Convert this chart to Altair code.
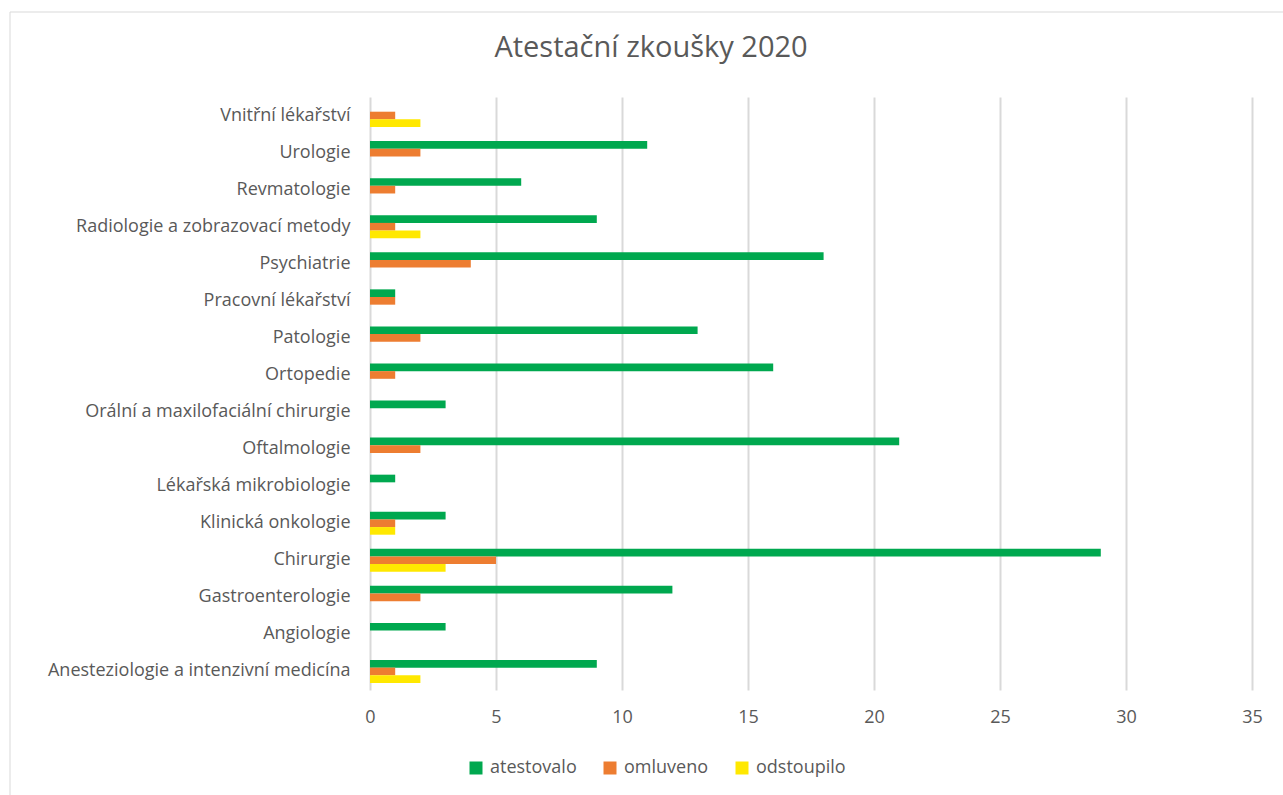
import altair as alt
import pandas as pd

categories = [
    "Vnitřní lékařství",
    "Urologie",
    "Revmatologie",
    "Radiologie a zobrazovací metody",
    "Psychiatrie",
    "Pracovní lékařství",
    "Patologie",
    "Ortopedie",
    "Orální a maxilofaciální chirurgie",
    "Oftalmologie",
    "Lékařská mikrobiologie",
    "Klinická onkologie",
    "Chirurgie",
    "Gastroenterologie",
    "Angiologie",
    "Anesteziologie a intenzivní medicína",
]
atestovalo = [0, 11, 6, 9, 18, 1, 13, 16, 3, 21, 1, 3, 29, 12, 3, 9]
omluveno = [1, 2, 1, 1, 4, 1, 2, 1, 0, 2, 0, 1, 5, 2, 0, 1]
odstoupilo = [2, 0, 0, 2, 0, 0, 0, 0, 0, 0, 0, 1, 3, 0, 0, 2]

series = ["atestovalo", "omluveno", "odstoupilo"]
colors = ["#00A84F", "#ED7D31", "#FFE800"]
x_ticks = [0, 5, 10, 15, 20, 25, 30, 35]
title_text = "Atestační zkoušky 2020"

rows = []
for s, vals in zip(series, [atestovalo, omluveno, odstoupilo]):
    for c, v in zip(categories, vals):
        rows.append({"obor": c, "serie": s, "pocet": v})
df = pd.DataFrame(rows)

FONT = "Open Sans"
GREY = "#595959"
LBL = 18

bars = alt.Chart(df).mark_bar().encode(
    y=alt.Y("obor:N", sort=categories, title=None,
            scale=alt.Scale(paddingInner=0.38, paddingOuter=0.19),
            axis=alt.Axis(labelFontSize=LBL, labelColor=GREY, labelFont=FONT,
                          ticks=False, domain=False, labelPadding=20, grid=False,
                          labelLimit=400)),
    x=alt.X("pocet:Q", title=None,
            scale=alt.Scale(domain=[0, 35], nice=False),
            axis=alt.Axis(values=x_ticks, labelFontSize=LBL, labelColor=GREY, labelFont=FONT,
                          ticks=False, domain=False, labelPadding=18, labelFlush=False,
                          grid=True, gridColor="#D9D9D9", gridWidth=2)),
    yOffset=alt.YOffset("serie:N", sort=series),
    color=alt.Color("serie:N", sort=series,
                    scale=alt.Scale(domain=series, range=colors),
                    legend=alt.Legend(title=None, orient="none", legendX=97, legendY=662,
                                      direction="horizontal", symbolType="square",
                                      symbolSize=169, symbolStrokeWidth=0,
                                      labelFontSize=LBL, labelColor=GREY, labelFont=FONT,
                                      labelOffset=5, columnPadding=24)),
)

frame = alt.Chart(pd.DataFrame({"a": [0]})).mark_rect(
    fill=None, stroke="#D9D9D9", strokeWidth=1
).encode(x=alt.value(-360), x2=alt.value(920), y=alt.value(-85), y2=alt.value(700))

title = alt.Chart(pd.DataFrame({"t": [title_text]})).mark_text(
    font=FONT, fontSize=29, color=GREY, align="center", baseline="middle"
).encode(text="t:N", x=alt.value(281), y=alt.value(-49))

chart = alt.layer(frame, bars, title).properties(
    width=882,
    height=593,
    autosize=alt.AutoSizeParams(type="none"),
    padding={"left": 370, "top": 97, "right": 31, "bottom": 105},
).configure(background="white").configure_view(stroke=None)

chart.save("out.html", embed_options={"renderer": "svg", "actions": False})
